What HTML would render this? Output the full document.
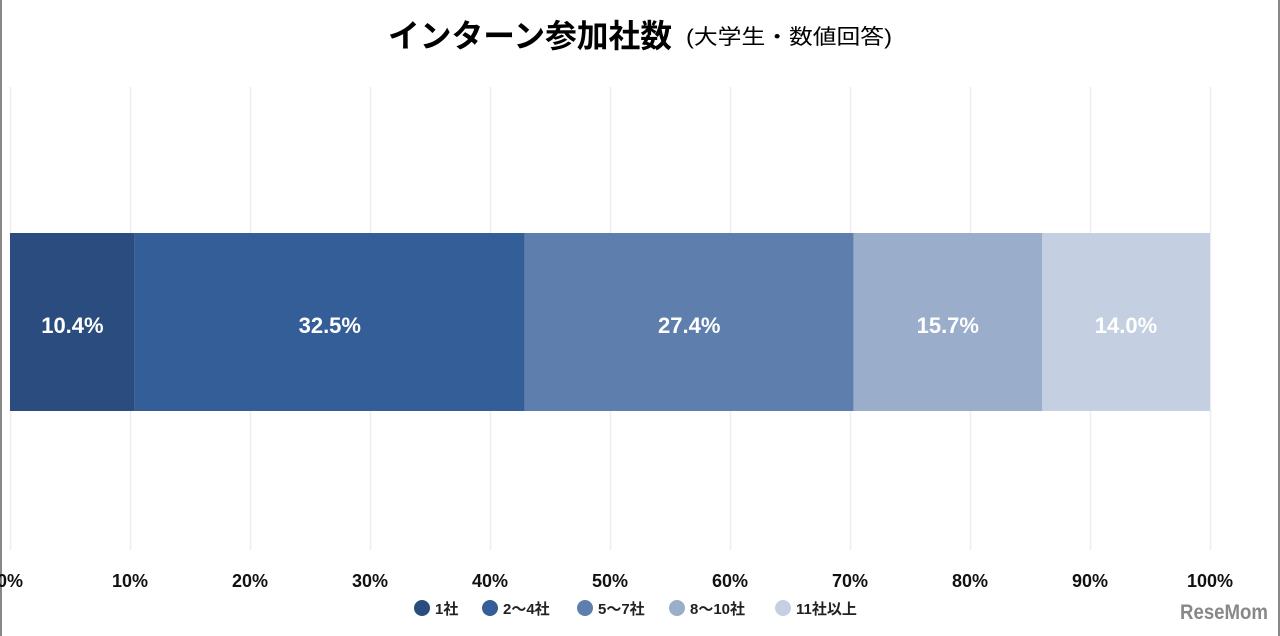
<!DOCTYPE html>
<html><head><meta charset="utf-8">
<style>
html,body{margin:0;padding:0;background:#fff;}
body{width:1280px;height:636px;overflow:hidden;position:relative;font-family:"Liberation Sans","Noto Sans CJK JP",sans-serif;}
#frame{position:absolute;left:0;top:0;width:1276px;height:636px;border-left:2px solid #888;border-right:2px solid #888;}
</style></head>
<body>
<div id="frame"></div>
<svg id="chart" width="1280" height="636" style="position:absolute;left:0;top:0">
<text x="388" y="47" textLength="284" lengthAdjust="spacingAndGlyphs" font-size="32" font-weight="bold" fill="#000">インターン参加社数</text>
<text x="686" y="44" textLength="206" lengthAdjust="spacingAndGlyphs" font-size="21" fill="#000">(大学生・数値回答)</text>
<g id="grid"></g><g id="bars"></g><g id="ticks"></g><g id="legend"></g>
<text x="1268" y="619" text-anchor="end" textLength="88" lengthAdjust="spacingAndGlyphs" font-size="21" font-weight="bold" fill="#888">ReseMom</text>
</svg>
<script>
const categories = ["1社","2〜4社","5〜7社","8〜10社","11社以上"];
const values = [10.4,32.5,27.4,15.7,14.0];
const colors = ["#2b4c7e","#345e97","#5e7fad","#9aadca","#c4cfe1"];
const tickValues = [0,10,20,30,40,50,60,70,80,90,100];
const NS="http://www.w3.org/2000/svg";
const x0=10,x1=1210;
const total=values.reduce((a,b)=>a+b,0);
function xs(p){return x0+(x1-x0)*p/100;}
function mk(t,a,p){const e=document.createElementNS(NS,t);for(const k in a)e.setAttribute(k,a[k]);p.appendChild(e);return e;}
const grid=document.getElementById('grid'),bars=document.getElementById('bars'),ticks=document.getElementById('ticks'),leg=document.getElementById('legend');
tickValues.forEach(v=>{
  const l=mk('line',{x1:xs(v)+0.5,x2:xs(v)+0.5,y1:87,y2:550,stroke:'#eeeeee','stroke-width':1.5},grid);
  
  
  const t=mk('text',{x:xs(v),y:587,'text-anchor':'middle','font-size':18,'font-weight':'bold',fill:'#111'},ticks);
  t.textContent=v+'%';
  
  
});
let cum=0;
values.forEach((v,i)=>{
  const p0=cum/total*100,p1=(cum+v)/total*100;cum+=v;
  const r=mk('rect',{x:xs(p0),y:233,width:xs(p1)-xs(p0),height:178,fill:colors[i]},bars);
  
  
  const t=mk('text',{x:(xs(p0)+xs(p1))/2,y:333,'text-anchor':'middle','font-size':22,'font-weight':'bold',fill:'#fff'},bars);
  t.textContent=v.toFixed(1)+'%';
  
  
});
const lx=[422,490,585,677,783];
categories.forEach((c,i)=>{
  const ci=mk('circle',{cx:lx[i],cy:608,r:8,fill:colors[i]},leg);
  
  
  const t=mk('text',{x:lx[i]+13,y:614,'font-size':15,'font-weight':'bold',fill:'#222'},leg);
  t.textContent=c;
  
  
});
</script>
</body></html>
